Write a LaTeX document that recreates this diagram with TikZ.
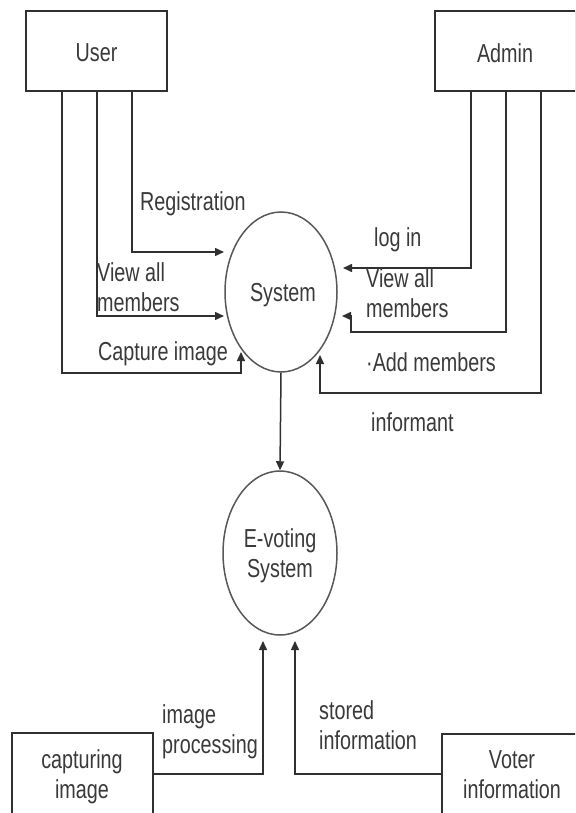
\documentclass[tikz,border=0pt]{standalone}
\usepackage{fontspec}
\setmainfont{Liberation Sans}
\usetikzlibrary{arrows.meta,shapes.geometric}
\definecolor{ln}{HTML}{303030}
\definecolor{elc}{HTML}{585858}
\definecolor{tx}{HTML}{3A3A3A}
\newcommand\sq[1]{\scalebox{0.76}[1]{#1}}
\newcommand\twol[2]{\scalebox{0.76}[1]{\begin{tabular}{@{}l@{}}#1\\#2\end{tabular}}}
\newcommand\twoc[2]{\scalebox{0.76}[1]{\begin{tabular}{@{}c@{}}#1\\#2\end{tabular}}}
\begin{document}
\begin{tikzpicture}[x=1pt,y=-1pt,
  font=\fontsize{26}{30}\selectfont,
  every node/.style={text=tx, inner sep=0pt},
  box/.style={draw=ln, line width=1.5pt, rectangle},
  bub/.style={draw=elc, line width=1.5pt, ellipse},
  arr/.style={draw=ln, line width=1.5pt, -{Triangle[length=9pt,width=8pt]}},
  lbl/.style={anchor=west}]
\useasboundingbox (0,0) rectangle (575,813);
\clip (0,0) rectangle (575,813);
\fill[white] (0,0) rectangle (575,813);

% boxes
\node[box, minimum width=141pt, minimum height=80pt] (user) at (96.5,51) {};
\node (usert) at (96.5,53) {\sq{User}};
\node[box, minimum width=141pt, minimum height=80pt] (admin) at (505.5,51) {};
\node (admint) at (505,53) {\sq{Admin}};
\node[box, minimum width=141pt, minimum height=100pt] (cap) at (82.5,783) {};
\node (capt) at (82,777) {\twoc{capturing}{image}};
\node[box, minimum width=141pt, minimum height=100pt] (vot) at (512.5,784) {};
\node (vott) at (512,777) {\twoc{Voter}{information}};

% processes
\node[bub, minimum width=112pt, minimum height=160pt] (sys) at (281,292) {};
\node (syst) at (283,295) {\sq{System}};
\node[bub, minimum width=114pt, minimum height=164pt] (ev) at (280,553) {};
\node (evt) at (280,556) {\twoc{E-voting}{System}};

% arrow tips
\coordinate (t1) at (224,252);
\coordinate (t2) at (224,316);
\coordinate (t3) at (241,352);
\coordinate (t4) at (343,268);
\coordinate (t5) at (342,316);
\coordinate (t6) at (320,355);
\coordinate (t7) at (263,641);
\coordinate (t8) at (295,641);

% user flows
\draw[arr] (user.south -| 132,0) |- (t1);
\draw[arr] (user.south -| 97,0) |- (t2);
\draw[arr] (user.south -| 62,0) |- (t3 |- 0,373) -- (t3);

% admin flows
\draw[arr] (admin.south -| 471,0) |- (t4);
\draw[arr] (admin.south -| 506,0) |- (351,332) |- (t5);
\draw[arr] (admin.south -| 541,0) |- (t6 |- 0,393) -- (t6);

% system to e-voting
\draw[arr] (sys.south) -- (ev.north);

% bottom flows
\draw[arr] (cap.east |- 0,774) -| (t7);
\draw[arr] (vot.west |- 0,774) -| (t8);

% labels
\node[lbl] (l1) at (140,204) {\sq{Registration}};
\node[lbl] (l2) at (97,290) {\twol{View all}{members}};
\node[lbl] (l3) at (98,354) {\sq{Capture image}};
\node[lbl] (l4) at (374,240) {\sq{log in}};
\node[lbl] (l5) at (366,296) {\twol{View all}{members}};
\node[lbl] (l6) at (366,362) {\sq{·Add members}};
\node[lbl] (l7) at (371,422) {\sq{informant}};
\node[lbl] (l8) at (162,732) {\twol{image}{processing}};
\node[lbl] (l9) at (319,728) {\twol{stored}{information}};
\end{tikzpicture}
\end{document}
